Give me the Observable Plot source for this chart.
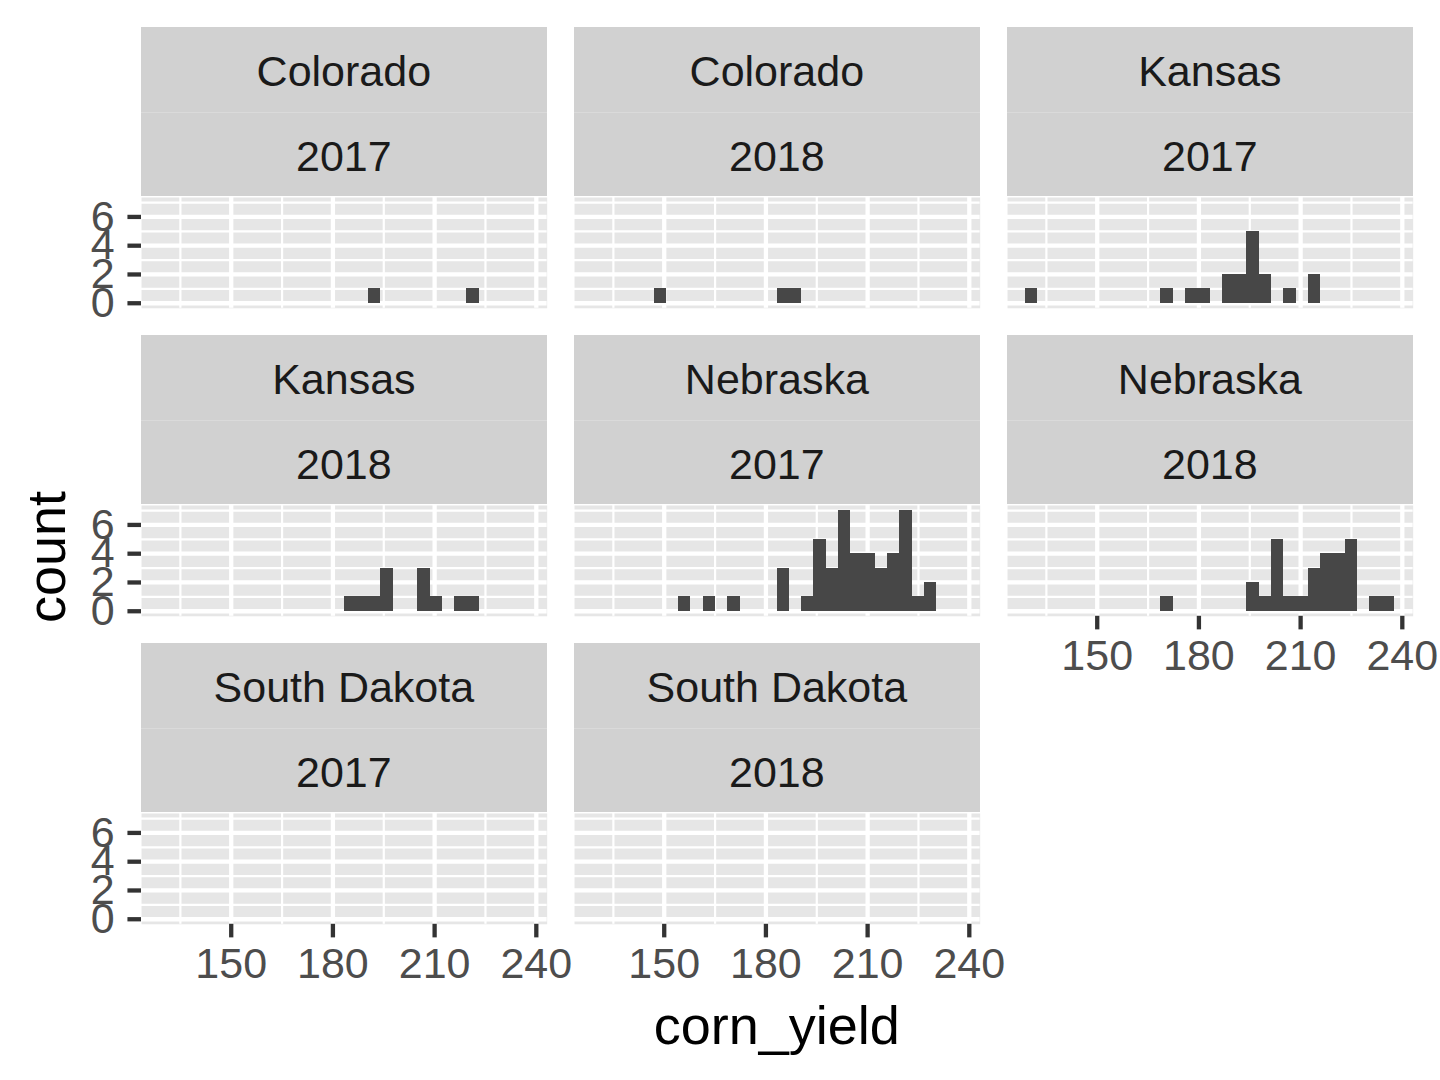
<!DOCTYPE html>
<html>
<head>
<meta charset="utf-8">
<script src="https://cdn.jsdelivr.net/npm/d3@7"></script>
<script src="https://cdn.jsdelivr.net/npm/@observablehq/plot@0.6"></script>
<style>
  html, body { margin: 0; padding: 0; background: #ffffff; }
  #chart { position: relative; width: 1440px; height: 1080px; background: #ffffff; font-family: "Liberation Sans", Arial, Helvetica, sans-serif; overflow: hidden; }
  .strip { position: absolute; background: #D1D1D1; color: #1A1A1A; font-size: 43px; text-align: center; white-space: nowrap; }
  .title { position: absolute; color: #000000; font-size: 54px; text-align: center; white-space: nowrap; }
  .panel { position: absolute; }
</style>
</head>
<body>
<div id="chart"></div>
<script>
// ---- data ----
const states = ["Colorado", "Colorado", "Kansas", "Kansas", "Nebraska", "Nebraska", "South Dakota", "South Dakota"];
const years = ["2017", "2018", "2017", "2018", "2017", "2018", "2017", "2018"];
// histogram counts per panel, 30 bins each (bin 0 starts at binStart)
const binStart = 128.85;
const binWidth = 3.628;
const colorado2017 = [0,0,0,0,0, 0,0,0,0,0, 0,0,0,0,0, 0,0,1,0,0, 0,0,0,0,0, 1,0,0,0,0];
const colorado2018 = [0,0,0,0,0, 1,0,0,0,0, 0,0,0,0,0, 1,1,0,0,0, 0,0,0,0,0, 0,0,0,0,0];
const kansas2017   = [1,0,0,0,0, 0,0,0,0,0, 0,1,0,1,1, 0,2,2,5,2, 0,1,0,2,0, 0,0,0,0,0];
const kansas2018   = [0,0,0,0,0, 0,0,0,0,0, 0,0,0,0,0, 1,1,1,3,0, 0,3,1,0,1, 1,0,0,0,0];
const nebraska2017 = [0,0,0,0,0, 0,0,1,0,1, 0,1,0,0,0, 3,0,1,5,3, 7,4,4,3,4, 7,1,2,0,0];
const nebraska2018 = [0,0,0,0,0, 0,0,0,0,0, 0,1,0,0,0, 0,0,0,2,1, 5,1,1,3,4, 4,5,0,1,1];
const southDakota2017 = [0,0,0,0,0, 0,0,0,0,0, 0,0,0,0,0, 0,0,0,0,0, 0,0,0,0,0, 0,0,0,0,0];
const southDakota2018 = [0,0,0,0,0, 0,0,0,0,0, 0,0,0,0,0, 0,0,0,0,0, 0,0,0,0,0, 0,0,0,0,0];
const panelCounts = [colorado2017, colorado2018, kansas2017, kansas2018, nebraska2017, nebraska2018, southDakota2017, southDakota2018];

const xTicks = [150, 180, 210, 240];
const xMinor = [135, 165, 195, 225];
const yTicks = [0, 2, 4, 6];
const yMinor = [1, 3, 5, 7];
const xDomain = [123.54, 243.2];
const yDomain = [-0.35, 7.35];

// ---- layout ----
const colLeft = [141, 574, 1007];
const panelW = 405.7;
const panelH = 110.8;
const stripTop0 = 26.7;
const stripH = 84.9;
const rowPitch = 308;
const nCols = 3;

const panelBg = "#E6E6E6";
const barColor = "#474747";
const tickText = "#4D4D4D";
const tickLine = "#333333";

const chart = document.getElementById("chart");

function addDiv(cls, text, left, top, width, height, extra) {
  const d = document.createElement("div");
  d.className = cls;
  d.textContent = text;
  Object.assign(d.style, {left: left + "px", top: top + "px", width: width + "px", height: height + "px", lineHeight: height + "px"}, extra || {});
  chart.appendChild(d);
  return d;
}

const n = states.length;
panelCounts.forEach((counts, i) => {
  const r = Math.floor(i / nCols), c = i % nCols;
  const left = colLeft[c];
  const sTop = stripTop0 + r * rowPitch;
  const pTop = sTop + 2 * stripH;
  // strips
  addDiv("strip", states[i], left, sTop, panelW, stripH, {lineHeight: (stripH + 4) + "px"});
  addDiv("strip", years[i], left, sTop + stripH, panelW, stripH, {lineHeight: (stripH + 3) + "px", borderTop: "1px solid #DADADA", height: (stripH - 1) + "px"});

  const showY = c === 0;
  const showX = (i + nCols) >= n;

  const bins = counts.map((v, k) => ({x1: binStart + k * binWidth, x2: binStart + (k + 1) * binWidth, count: v})).filter(d => d.count > 0);

  const marks = [
    Plot.frame({fill: panelBg, stroke: null}),
    Plot.gridX(xMinor, {stroke: "#ffffff", strokeOpacity: 1, strokeWidth: 2.2}),
    Plot.gridY(yMinor, {stroke: "#ffffff", strokeOpacity: 1, strokeWidth: 2.2}),
    Plot.gridX(xTicks, {stroke: "#ffffff", strokeOpacity: 1, strokeWidth: 4.3}),
    Plot.gridY(yTicks, {stroke: "#ffffff", strokeOpacity: 1, strokeWidth: 4.3}),
    Plot.rectY(bins, {x1: "x1", x2: "x2", y: "count", fill: barColor, inset: 0, shapeRendering: "crispEdges"})
  ];
  if (showY) {
    marks.push(Plot.axisY(yTicks, {anchor: "left", tickSize: 13.6, tickPadding: 13.4, fontSize: 43, fill: tickText, stroke: tickLine, strokeWidth: 4.3, label: null, tickFormat: d => String(d)}));
  }
  if (showX) {
    marks.push(Plot.axisX(xTicks, {anchor: "bottom", tickSize: 13.6, tickPadding: 9.5, fontSize: 43, fill: tickText, stroke: tickLine, strokeWidth: 4.3, label: null, tickFormat: d => String(d)}));
  }

  const svg = Plot.plot({
    width: panelW,
    height: panelH,
    marginTop: 0, marginRight: 0, marginBottom: 0, marginLeft: 0,
    x: {domain: xDomain, axis: null},
    y: {domain: yDomain, axis: null},
    style: {overflow: "visible", fontFamily: "'Liberation Sans', Arial, Helvetica, sans-serif", background: "transparent", maxWidth: "none"},
    marks
  });
  const holder = document.createElement("div");
  holder.className = "panel";
  Object.assign(holder.style, {left: left + "px", top: pTop + "px", width: panelW + "px", height: panelH + "px"});
  holder.appendChild(svg);
  chart.appendChild(holder);
});

// axis titles
addDiv("title", "corn_yield", 476.8, 995, 600, 60);
const yt = addDiv("title", "count", 46 - 150, 557 - 30, 300, 60);
yt.style.transform = "rotate(-90deg)";
</script>
</body>
</html>
